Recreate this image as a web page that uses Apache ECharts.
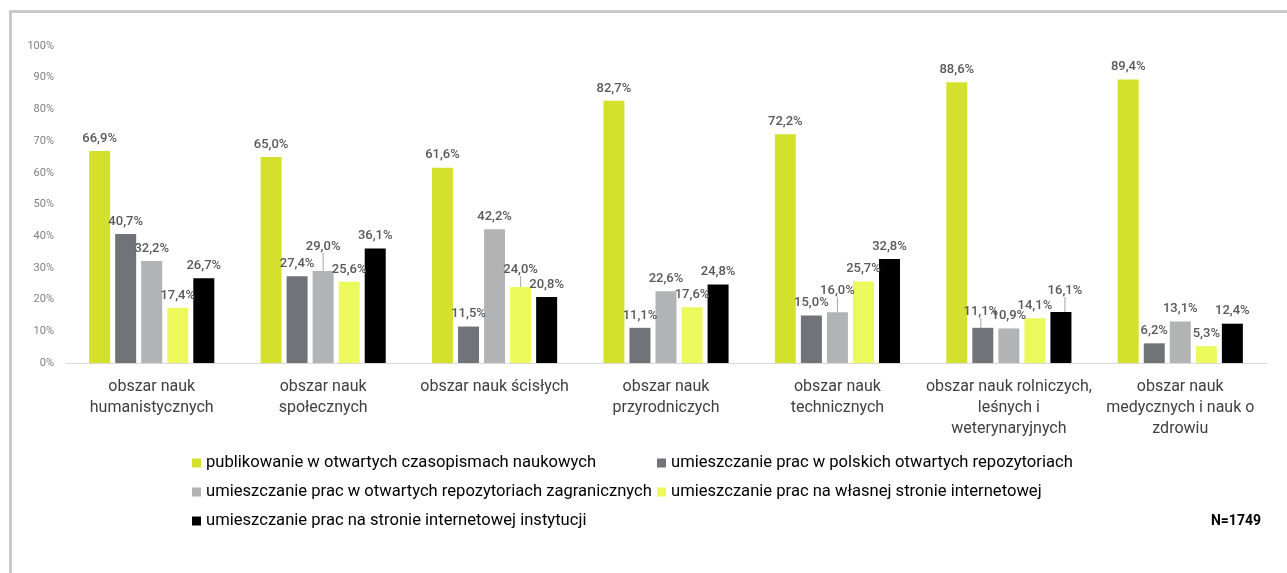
<!DOCTYPE html>
<html>
<head>
<meta charset="utf-8">
<script src="https://cdn.jsdelivr.net/npm/echarts@6/dist/echarts.min.js"></script>
<style>
  html, body { margin: 0; padding: 0; background: #fff; }
  #frame { position: absolute; left: 9px; top: 10px; width: 1300px; height: 600px;
           border-top: 3px solid #c9c9c9; border-left: 3px solid #c9c9c9; }
  #chart { position: absolute; left: 0; top: 0; width: 1287px; height: 573px; }
</style>
</head>
<body>
<div id="frame"></div>
<div id="chart"></div>
<script>
var categories = [
    'obszar nauk\nhumanistycznych',
    'obszar nauk\nspołecznych',
    'obszar nauk ścisłych',
    'obszar nauk\nprzyrodniczych',
    'obszar nauk\ntechnicznych',
    'obszar nauk rolniczych,\nleśnych i\nweterynaryjnych',
    'obszar nauk\nmedycznych i nauk o\nzdrowiu'
];
var seriesNames = [
    'publikowanie w otwartych czasopismach naukowych',
    'umieszczanie prac w polskich otwartych repozytoriach',
    'umieszczanie prac w otwartych repozytoriach zagranicznych',
    'umieszczanie prac na własnej stronie internetowej',
    'umieszczanie prac na stronie internetowej instytucji'
];
var journals = [66.9, 65.0, 61.6, 82.7, 72.2, 88.6, 89.4];
var polishRepos = [40.7, 27.4, 11.5, 11.1, 15.0, 11.1, 6.2];
var foreignRepos = [32.2, 29.0, 42.2, 22.6, 16.0, 10.9, 13.1];
var ownSite = [17.4, 25.6, 24.0, 17.6, 25.7, 14.1, 5.3];
var instSite = [26.7, 36.1, 20.8, 24.8, 32.8, 16.1, 12.4];
var colors = ['#d3e12d', '#707378', '#b2b3b5', '#ebf95c', '#000000'];
var yTicks = [0, 10, 20, 30, 40, 50, 60, 70, 80, 90, 100];

// labels that were dragged away from their bars in the original (series, category, dx, dy)
var movedLabels = [
    [2, 1, 0, -12],
    [3, 2, 0, -5],
    [2, 4, 0, -9],
    [1, 5, -2, -4],
    [4, 5, 4, -9]
];

var chart = echarts.init(document.getElementById('chart'));
var font = 'Roboto, sans-serif';
var allData = [journals, polishRepos, foreignRepos, ownSite, instSite];

function findMove(s, c) {
    for (var k = 0; k < movedLabels.length; k++) {
        if (movedLabels[k][0] === s && movedLabels[k][1] === c) return movedLabels[k];
    }
    return null;
}

var series = allData.map(function (d, i) {
    return {
        name: seriesNames[i],
        type: 'bar',
        data: d.map(function (v, j) {
            var m = findMove(i, j);
            return m ? { value: v, labelLine: { show: true } } : v;
        }),
        barWidth: 21,
        barGap: '24%',
        itemStyle: { color: colors[i] },
        label: {
            show: true,
            position: 'top',
            distance: 6,
            fontFamily: font,
            fontSize: 13,
            fontWeight: 500,
            color: '#595959',
            formatter: function (p) { return p.value.toFixed(1).replace('.', ',') + '%'; }
        },
        labelLine: { show: false, lineStyle: { color: '#a6a6a6', width: 1 } },
        labelLayout: function (p) {
            var m = findMove(p.seriesIndex, p.dataIndex);
            return m ? { dx: m[2], dy: m[3] } : {};
        }
    };
});

var legendText = { fontFamily: font, fontSize: 16.6, color: '#000', lineHeight: 18 };

chart.setOption({
    animation: false,
    color: colors,
    grid: { left: 66, right: 21, top: 46, bottom: 210 },
    legend: [
        {
            orient: 'vertical', left: 192, top: 454, padding: 0,
            itemWidth: 9, itemHeight: 9, itemGap: 11, itemTextGap: 4,
            icon: 'rect',
            data: [seriesNames[0], seriesNames[2], seriesNames[4]],
            textStyle: legendText
        },
        {
            orient: 'vertical', left: 657, top: 454, padding: 0,
            itemWidth: 9, itemHeight: 9, itemGap: 11, itemTextGap: 4,
            icon: 'rect',
            data: [seriesNames[1], seriesNames[3]],
            textStyle: legendText
        }
    ],
    xAxis: {
        type: 'category',
        data: categories,
        axisLine: { lineStyle: { color: '#d9d9d9', width: 1 } },
        axisTick: { show: false },
        axisLabel: {
            interval: 0, margin: 13,
            fontFamily: font, fontSize: 16, color: '#404040', lineHeight: 21
        }
    },
    yAxis: {
        type: 'value',
        min: yTicks[0],
        max: yTicks[yTicks.length - 1],
        interval: 10,
        splitLine: { show: false },
        axisLine: { show: false },
        axisTick: { show: false },
        axisLabel: {
            margin: 12,
            fontFamily: font, fontSize: 11, color: '#808080',
            formatter: function (v) { return v + '%'; }
        }
    },
    graphic: [{
        type: 'text',
        right: 26, top: 514,
        style: { text: 'N=1749', font: 'bold 14px Roboto, sans-serif', fill: '#000' }
    }],
    series: series
});

window.onresize = function () { chart.resize(); };
</script>
</body>
</html>
